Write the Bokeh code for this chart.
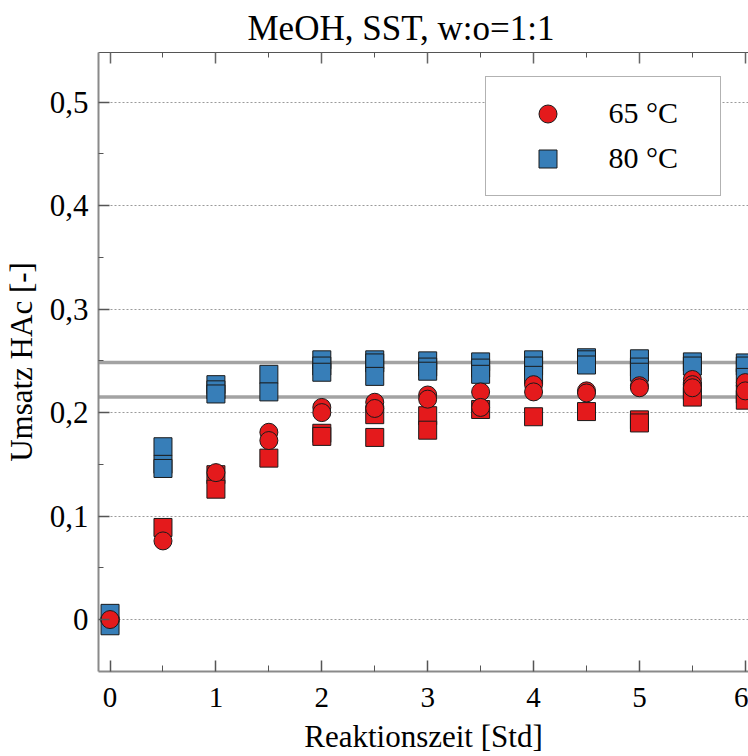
from bokeh.plotting import figure
from bokeh.models import (LinearAxis, FixedTicker, CustomJSTickFormatter, Span,
                          Legend, LegendItem, ColumnDataSource, Range1d)
from bokeh.embed import file_html
from bokeh.resources import INLINE

# ---------------- data ----------------
title_text = "MeOH, SST, w:o=1:1"
x_label = "Reaktionszeit [Std]"
y_label = "Umsatz HAc [-]"

x_ticks = [0, 1, 2, 3, 4, 5, 6]
x_minor = [0.5, 1.5, 2.5, 3.5, 4.5, 5.5]
y_ticks = [0, 0.1, 0.2, 0.3, 0.4, 0.5]
y_tick_labels = ["0", "0,1", "0,2", "0,3", "0,4", "0,5"]
y_minor = [0.05, 0.15, 0.25, 0.35, 0.45]

# 65 °C (circles)
t_65 = [0, 0.5, 1, 1.5, 1.5, 2, 2, 2.5, 2.5, 3, 3, 3.5, 3.5, 4, 4, 4.5, 4.5,
        5, 5, 5.5, 5.5, 5.5, 6, 6]
u_65 = [0.0, 0.076, 0.142, 0.181, 0.173, 0.205, 0.200, 0.210, 0.204, 0.217, 0.213,
        0.220, 0.205, 0.227, 0.220, 0.221, 0.219, 0.226, 0.224, 0.232, 0.227, 0.224,
        0.229, 0.221]

# 65 °C repeat series (red squares)
t_65b = [0.5, 1, 1, 1.5, 2, 2, 2.5, 2.5, 3, 3, 3.5, 4, 4.5, 5, 5, 5.5, 5.5, 6, 6]
u_65b = [0.089, 0.140, 0.126, 0.156, 0.180, 0.177, 0.198, 0.176, 0.197, 0.183,
         0.203, 0.196, 0.201, 0.193, 0.190, 0.221, 0.215, 0.218, 0.212]

# 80 °C (squares)
t_80 = [0, 0, 0.5, 0.5, 0.5, 1, 1, 1, 1.5, 1.5, 2, 2, 2, 2.5, 2.5, 2.5, 3, 3, 3,
        3.5, 3.5, 3.5, 4, 4, 4, 4.5, 4.5, 4.5, 5, 5, 5, 5.5, 5.5, 6, 6, 6]
u_80 = [0.006, -0.006, 0.167, 0.150, 0.146, 0.227, 0.222, 0.218, 0.237, 0.220,
        0.251, 0.245, 0.239, 0.251, 0.248, 0.235, 0.250, 0.244, 0.240,
        0.249, 0.243, 0.237, 0.251, 0.245, 0.236, 0.253, 0.251, 0.246,
        0.252, 0.244, 0.239, 0.249, 0.245, 0.248, 0.245, 0.234]

mean_levels = [0.2484, 0.215]

legend_labels = ["65 °C", "80 °C"]

RED = "#E41A1C"
BLUE = "#377EB8"
FONT = "Liberation Serif"

# ---------------- figure ----------------
p = figure(width=748, height=756, output_backend="svg", toolbar_location=None,
           x_range=Range1d(-0.109, 6.03), y_range=Range1d(-0.0502, 0.548),
           min_border_left=98, min_border_right=0, min_border_top=52,
           min_border_bottom=84)
p.outline_line_color = None
p.background_fill_color = "white"
p.border_fill_color = "white"

p.title.text = title_text
p.title.text_font = FONT
p.title.text_font_size = "35px"
p.title.text_font_style = "normal"
p.title.text_color = "black"
p.title.align = "left"
p.title.offset = 149

# grid
p.xgrid.visible = False
p.ygrid.ticker = FixedTicker(ticks=y_ticks)
p.ygrid.grid_line_color = "#9a9a9a"
p.ygrid.grid_line_dash = "2 2"
p.ygrid.grid_line_width = 1

# bottom axis
xa = p.xaxis[0]
xa.ticker = FixedTicker(ticks=x_ticks, minor_ticks=x_minor)
xa.axis_label = x_label
xa.axis_label_text_font = FONT
xa.axis_label_text_font_size = "31px"
xa.axis_label_text_font_style = "normal"
xa.axis_label_text_color = "black"
xa.axis_label_standoff = 9
xa.axis_label_text_line_height = 1.0
xa.major_label_text_font = FONT
xa.major_label_text_font_size = "29px"
xa.major_label_text_color = "black"
xa.major_label_standoff = 16
xa.major_label_text_line_height = 1.0
xa.axis_line_color = "#8a8a8a"
xa.axis_line_width = 2
xa.major_tick_in = 11
xa.major_tick_out = 0
xa.minor_tick_in = 6
xa.minor_tick_out = 0
xa.major_tick_line_color = "#555555"
xa.minor_tick_line_color = "#555555"
xa.major_tick_line_width = 1.5

# left axis
ya = p.yaxis[0]
ya.ticker = FixedTicker(ticks=y_ticks, minor_ticks=y_minor)
ya.major_label_overrides = dict(zip(y_ticks, y_tick_labels))
ya.axis_label = y_label
ya.axis_label_text_font = FONT
ya.axis_label_text_font_size = "31px"
ya.axis_label_text_font_style = "normal"
ya.axis_label_text_color = "black"
ya.axis_label_standoff = 8
ya.axis_label_text_line_height = 1.0
ya.major_label_text_font = FONT
ya.major_label_text_font_size = "31px"
ya.major_label_text_color = "black"
ya.major_label_standoff = 10
ya.axis_line_color = "#8a8a8a"
ya.axis_line_width = 2
ya.major_tick_in = 11
ya.major_tick_out = 0
ya.minor_tick_in = 5
ya.minor_tick_out = 0
ya.major_tick_line_color = "#555555"
ya.minor_tick_line_color = "#555555"
ya.major_tick_line_width = 1.5

# top border axis (ticks only)
ta = LinearAxis(ticker=FixedTicker(ticks=x_ticks, minor_ticks=x_minor),
                formatter=CustomJSTickFormatter(code="return ''"),
                major_label_standoff=0, major_label_text_font_size="1px",
                major_tick_in=11, major_tick_out=0, minor_tick_in=5, minor_tick_out=0,
                axis_line_color="#555555", axis_line_width=1.2,
                major_tick_line_color="#666666", minor_tick_line_color="#555555",
                major_tick_line_width=1.5)
p.add_layout(ta, "above")

# horizontal reference lines
for lv in mean_levels:
    p.add_layout(Span(location=lv, dimension="width", line_color="#a3a3a3",
                      line_width=3.5, level="underlay"))

# data
src80 = ColumnDataSource(dict(x=t_80, y=u_80))
src65b = ColumnDataSource(dict(x=t_65b, y=u_65b))
src65 = ColumnDataSource(dict(x=t_65, y=u_65))

r80 = p.scatter("x", "y", source=src80, marker="square", size=18,
                fill_color=BLUE, line_color="#1a1a1a", line_width=1)
r65b = p.scatter("x", "y", source=src65b, marker="square", size=18,
                 fill_color=RED, line_color="#1a1a1a", line_width=1)
r65 = p.scatter("x", "y", source=src65, marker="circle", size=18,
                fill_color=RED, line_color="#1a1a1a", line_width=1)

legend = Legend(items=[LegendItem(label=legend_labels[0], renderers=[r65]),
                       LegendItem(label=legend_labels[1], renderers=[r80])],
                location=(386.5, 475.3), orientation="vertical", margin=0,
                padding=14, spacing=-8, glyph_width=95, glyph_height=45,
                label_height=45, label_width=97, label_standoff=14,
                border_line_color="#666666", border_line_width=1.5,
                background_fill_color="white", background_fill_alpha=1.0,
                label_text_font=FONT, label_text_font_size="30px",
                label_text_color="black")
p.add_layout(legend)

open("out.html", "w").write(file_html(p, INLINE))
